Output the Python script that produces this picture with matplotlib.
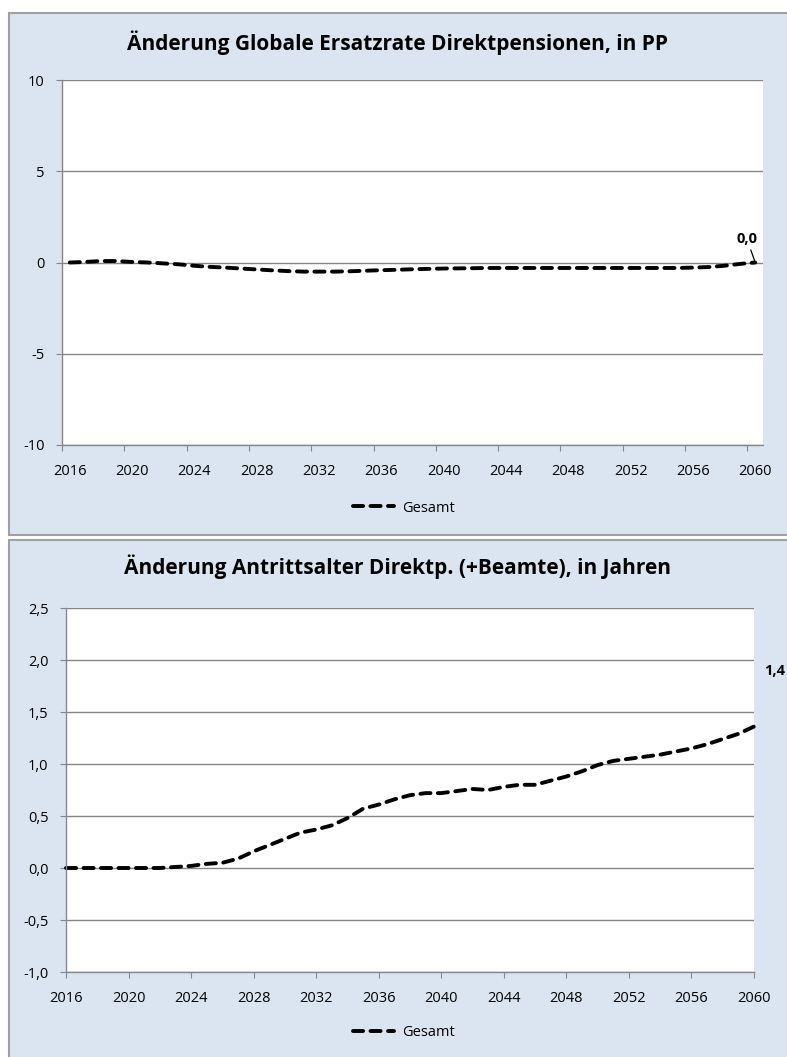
import numpy as np
import matplotlib
matplotlib.use("Agg")
import matplotlib.pyplot as plt
from matplotlib.patches import Rectangle

plt.rcParams['font.family'] = ['Open Sans', 'DejaVu Sans']

##data
years = list(range(2016, 2061))
ersatzrate = [0.0, 0.03, 0.08, 0.08, 0.03, 0.0, -0.05, -0.1, -0.18, -0.24,
              -0.28, -0.33, -0.38, -0.43, -0.47, -0.5, -0.5, -0.5, -0.48, -0.45,
              -0.42, -0.4, -0.37, -0.35, -0.33, -0.32, -0.31, -0.3, -0.3, -0.3,
              -0.3, -0.3, -0.3, -0.3, -0.3, -0.3, -0.3, -0.3, -0.3, -0.3,
              -0.28, -0.25, -0.18, -0.08, 0.0]
antrittsalter = [0.0, 0.0, 0.0, 0.0, 0.0, 0.0, 0.0, 0.01, 0.02, 0.04,
                 0.05, 0.09, 0.16, 0.22, 0.28, 0.34, 0.37, 0.41, 0.48, 0.57,
                 0.61, 0.66, 0.70, 0.72, 0.72, 0.74, 0.76, 0.75, 0.78, 0.80,
                 0.80, 0.84, 0.88, 0.93, 0.99, 1.03, 1.05, 1.07, 1.09, 1.12,
                 1.15, 1.19, 1.24, 1.29, 1.36]
year_labels = list(range(2016, 2061, 4))
title1 = "Änderung Globale Ersatzrate Direktpensionen, in PP"
title2 = "Änderung Antrittsalter Direktp. (+Beamte), in Jahren"
series_name = "Gesamt"

##styles
bg = '#dbe5f1'
grid_c = '#868686'
border_c = '#a0a0a0'
W, H = 787, 1057


def fx(px):
    return px / W


def fy(py):
    return 1 - py / H


def fmt(v):
    return f"{v:.1f}".replace('.', ',')


def style_axes(ax, yticks, ylabels, ypad):
    ax.set_facecolor('white')
    for s in ['top', 'right']:
        ax.spines[s].set_visible(False)
    for s in ['left', 'bottom']:
        ax.spines[s].set_color(grid_c)
        ax.spines[s].set_linewidth(1.0)
    ax.set_yticks(yticks)
    ax.set_yticklabels(ylabels)
    ax.set_ylim(yticks[0], yticks[-1])
    ax.yaxis.grid(True, color=grid_c, linewidth=1.0)
    ax.set_axisbelow(True)
    ax.tick_params(axis='y', length=4, color=grid_c, pad=ypad, labelsize=10.5)
    ax.tick_params(axis='x', which='both', color=grid_c, labelsize=10.5)


fig = plt.figure(figsize=(W / 100, H / 100), dpi=100)
fig.patch.set_facecolor('white')

# panel backgrounds
fig.add_artist(Rectangle((fx(9), fy(535)), 1.0, fy(13) - fy(535),
                         transform=fig.transFigure, facecolor=bg,
                         edgecolor=border_c, linewidth=1.5, zorder=0))
fig.add_artist(Rectangle((fx(9), fy(1080)), 1.0, fy(540) - fy(1080),
                         transform=fig.transFigure, facecolor=bg,
                         edgecolor=border_c, linewidth=1.5, zorder=0))

line_kw = dict(color='black', linewidth=2.8, dashes=(2.6, 1.9),
               dash_capstyle='round', solid_capstyle='round')

#chart 1
ax1 = fig.add_axes([fx(62), fy(445), fx(763) - fx(62), fy(80) - fy(445)])
style_axes(ax1, [-10, -5, 0, 5, 10], ['-10', '-5', '0', '5', '10'], 8.5)
ax1.plot(years, ersatzrate, label=series_name, **line_kw)
ax1.set_xlim(years[0] - 0.5, years[-1] + 0.5)
ax1.set_xticks([y - 0.5 for y in year_labels])
ax1.set_xticklabels([])
ax1.set_xticks(year_labels, minor=True)
ax1.set_xticklabels([str(y) for y in year_labels], minor=True)
ax1.tick_params(axis='x', which='major', length=4)
ax1.tick_params(axis='x', which='minor', length=0, pad=14)
ax1.annotate(fmt(ersatzrate[-1]), xy=(years[-1], ersatzrate[-1]),
             xytext=(-6, 12), textcoords='offset points', ha='center',
             va='bottom', fontsize=10.5, fontweight='bold',
             arrowprops=dict(arrowstyle='-', color='black', lw=0.9,
                             shrinkA=1, shrinkB=0))
fig.text(fx(398), fy(43), title1, ha='center', va='center',
         fontsize=15, fontweight='bold')
ax1.legend(loc='center', bbox_to_anchor=(fx(404), fy(508)),
           bbox_transform=fig.transFigure, frameon=False, fontsize=10.5,
           handlelength=2.8, handletextpad=0.6)

#chart 2
ax2 = fig.add_axes([fx(66), fy(972), fx(754) - fx(66), fy(608) - fy(972)])
yt2 = [-1.0, -0.5, 0.0, 0.5, 1.0, 1.5, 2.0, 2.5]
style_axes(ax2, yt2, [fmt(v) for v in yt2], 8.5)
ax2.plot(years, antrittsalter, label=series_name, clip_on=False, **line_kw)
ax2.set_xlim(years[0], years[-1])
ax2.set_xticks(year_labels)
ax2.set_xticklabels([str(y) for y in year_labels])
ax2.tick_params(axis='x', length=4, pad=10)
ax2.annotate(fmt(antrittsalter[-1]), xy=(years[-1], antrittsalter[-1]),
             xytext=(14.5, 40), textcoords='offset points', ha='center',
             va='center', fontsize=10.5, fontweight='bold',
             annotation_clip=False)
fig.text(fx(398), fy(567), title2, ha='center', va='center',
         fontsize=15, fontweight='bold')
ax2.legend(loc='center', bbox_to_anchor=(fx(404), fy(1033)),
           bbox_transform=fig.transFigure, frameon=False, fontsize=10.5,
           handlelength=2.8, handletextpad=0.6)

fig.savefig('out.png', dpi=100, facecolor=fig.get_facecolor())
